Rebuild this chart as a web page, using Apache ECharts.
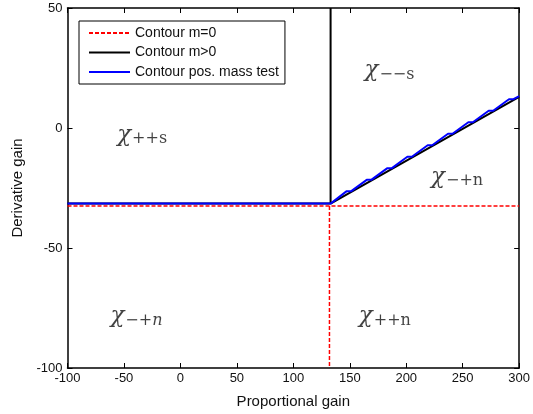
<!DOCTYPE html>
<html>
<head>
<meta charset="utf-8">
<script src="https://cdn.jsdelivr.net/npm/echarts@6/dist/echarts.min.js"></script>
<style>
  html, body { margin: 0; padding: 0; background: #fff; }
  #chart { width: 533px; height: 414px; }
</style>
</head>
<body>
<div id="chart"></div>
<script>
// contour m=0 : horizontal boundary and vertical boundary (null splits them)
const zeroMassX = [-100, 300, null, 132, 132];
const zeroMassY = [-32.5, -32.5, null, -32.5, -100];

// contour m>0
const posMassX = [-100, 133, 300, null, 133, 133];
const posMassY = [-31.5, -31.5, 13, null, -31.5, 50];

// contour from positive mass test (slightly stepped along the diagonal)
const massTestX = [-100, 133, 147, 151, 165, 169, 183, 187, 201, 205, 219, 223, 237, 241, 255, 259, 273, 277, 291, 295, 300];
const massTestY = [-31.5, -31.5, -26.4, -26.4, -21.6, -21.6, -16.8, -16.8, -12.0, -12.0, -7.2, -7.2, -2.4, -2.4, 2.4, 2.4, 7.2, 7.2, 12.0, 12.0, 13.3];

// region labels: chi symbol + subscript
const regionSub = ['−−s', '++s', '−+n', '−+', '++n'];
const regionItalicN = [false, false, false, true, false];
const regionX = [163, -56, 222, -62, 158];
const regionY = [24, -3, -20.5, -78.5, -78.5];

function pairs(xs, ys) {
  return xs.map((x, i) => (x === null ? [null, null] : [x, ys[i]]));
}

const labelFont = 'Liberation Sans, Arial, sans-serif';
const mathFont = 'DejaVu Serif, Liberation Serif, serif';
const chart = echarts.init(document.getElementById('chart'));

const baseAxisLine = { show: true, onZero: false, lineStyle: { color: '#000', width: 1.5 } };
const innerTick = { show: true, inside: true, length: 5, lineStyle: { color: '#000', width: 1 } };

const option = {
  backgroundColor: '#fff',
  animation: false,
  grid: { left: 67.5, right: 10, top: 8, bottom: 46, containLabel: false },
  legend: {
    orient: 'vertical',
    left: 79,
    top: 21,
    data: ['Contour m=0', 'Contour m>0', 'Contour pos. mass test'],
    backgroundColor: '#fff',
    borderColor: '#000',
    borderWidth: 1,
    padding: [5, 6, 5, 9],
    itemGap: 5.5,
    itemWidth: 41,
    itemHeight: 14,
    itemStyle: { opacity: 0 },
    textStyle: { fontFamily: labelFont, fontSize: 14, color: '#111' },
  },
  xAxis: [
    {
      type: 'value', min: -100, max: 300, interval: 50, position: 'bottom',
      name: 'Proportional gain', nameLocation: 'middle', nameGap: 26,
      nameTextStyle: { fontFamily: labelFont, fontSize: 15, color: '#111' },
      axisLine: baseAxisLine, axisTick: innerTick,
      axisLabel: { fontFamily: labelFont, fontSize: 13, color: '#111', margin: 4 },
      splitLine: { show: false },
    },
    {
      type: 'value', min: -100, max: 300, interval: 50, position: 'top',
      axisLine: baseAxisLine, axisTick: innerTick,
      axisLabel: { show: false }, splitLine: { show: false },
    },
  ],
  yAxis: [
    {
      type: 'value', min: -100, max: 50, interval: 50, position: 'left',
      name: 'Derivative gain', nameLocation: 'middle', nameGap: 42,
      nameTextStyle: { fontFamily: labelFont, fontSize: 15, color: '#111' },
      axisLine: baseAxisLine, axisTick: innerTick,
      axisLabel: { fontFamily: labelFont, fontSize: 13, color: '#111', margin: 5 },
      splitLine: { show: false },
    },
    {
      type: 'value', min: -100, max: 50, interval: 50, position: 'right',
      axisLine: baseAxisLine, axisTick: innerTick,
      axisLabel: { show: false }, splitLine: { show: false },
    },
  ],
  series: [
    {
      name: 'Contour m=0', type: 'line', symbol: 'none', connectNulls: false,
      data: pairs(zeroMassX, zeroMassY),
      lineStyle: { color: '#ff0000', width: 1.5, type: [4, 2] },
      itemStyle: { color: '#ff0000' }, z: 2,
    },
    {
      name: 'Contour m>0', type: 'line', symbol: 'none', connectNulls: false,
      data: pairs(posMassX, posMassY),
      lineStyle: { color: '#000', width: 2 },
      itemStyle: { color: '#000' }, z: 3,
    },
    {
      name: 'Contour pos. mass test', type: 'line', symbol: 'none',
      data: pairs(massTestX, massTestY),
      lineStyle: { color: '#0000ff', width: 2 },
      itemStyle: { color: '#0000ff' }, z: 4,
    },
    {
      name: 'regions', type: 'scatter', symbolSize: 0, silent: true,
      data: regionX.map((x, i) => [x, regionY[i]]),
      label: {
        show: true, position: 'right', distance: 0,
        formatter: p => {
          const i = p.dataIndex;
          return '{c|χ}{s|' + regionSub[i] + '}' + (regionItalicN[i] ? '{n|n}' : '');
        },
        rich: {
          c: { fontFamily: mathFont, fontStyle: 'italic', fontSize: 23, color: '#111' },
          s: { fontFamily: mathFont, fontSize: 16, color: '#111', padding: [8, 0, 0, 1] },
          n: { fontFamily: mathFont, fontStyle: 'italic', fontSize: 16, color: '#111', padding: [8, 0, 0, 0] },
        },
      },
      z: 5,
    },
  ],
};

chart.setOption(option);
</script>
</body>
</html>
